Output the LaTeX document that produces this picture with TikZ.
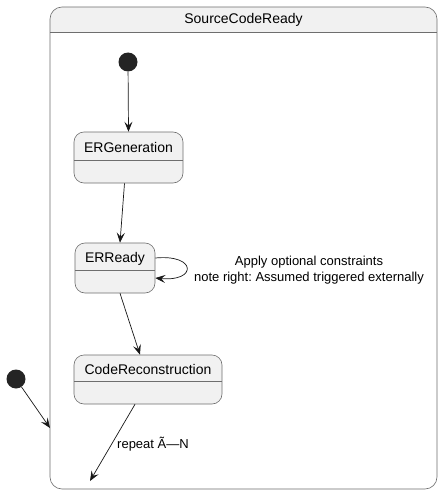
\documentclass[tikz,border=0pt]{standalone}
\usepackage{fontspec}
\setmainfont{Liberation Sans}
\frenchspacing
\usetikzlibrary{arrows.meta,calc}
\definecolor{stfill}{HTML}{F1F1F1}
\definecolor{stline}{HTML}{181818}
\definecolor{bordergray}{HTML}{6E6E6E}
\tikzset{
  every picture/.style={x=1pt,y=-1pt},
  statebox/.style={draw=bordergray, fill=stfill, rounded corners=10pt, line width=0.6pt, inner sep=0pt},
  cont/.style={draw=bordergray, rounded corners=12pt, line width=0.6pt, inner sep=0pt},
  initdot/.style={circle, fill=stline!95, minimum size=19pt, inner sep=0pt},
  stname/.style={font=\fontsize{14}{16}\selectfont, inner sep=0pt},
  lbl/.style={font=\fontsize{13}{16}\selectfont, inner sep=0pt, align=center},
  arr/.style={draw=stline, line width=0.7pt, -{Stealth[length=10pt,width=8pt,inset=4pt]}},
  divider/.style={draw=bordergray, line width=0.6pt}
}
\begin{document}
\begin{tikzpicture}
\useasboundingbox[fill=white] (0,0) rectangle (443,495);
% container
\begin{scope}
  \clip[rounded corners=12pt] (50,7) rectangle (437,489);
  \fill[stfill] (50,7) rectangle (437,32);
\end{scope}
\node[cont, minimum width=387pt, minimum height=482pt] (scr) at (243.5,248) {};
\draw[divider] (50,32) -- (437,32);
\node[stname] (scrt) at (243.5,20) {SourceCodeReady};
% states
\node[statebox, minimum width=109pt, minimum height=51pt] (erg) at (128.5,157.5) {};
\draw[divider] (74,160) -- (183,160);
\node[stname] (ergt) at (128.5,147) {ERGeneration};
\node[statebox, minimum width=80pt, minimum height=50pt] (err) at (115,268) {};
\draw[divider] (75,270) -- (155,270);
\node[stname] (errt) at (115,259) {ERReady};
\node[statebox, minimum width=148pt, minimum height=49pt] (cr) at (148,379.5) {};
\draw[divider] (74,381) -- (222,381);
\node[stname] (crt) at (148,369) {CodeReconstruction};
% initial states
\node[initdot] (i1) at (128,62) {};
\node[initdot] (i2) at (16,379) {};
\coordinate (e1) at (90,481);
\coordinate (e2) at (50,428);
% connectors
\draw[arr] (i1) -- (erg.north);
\draw[arr] ($(erg.south)+(-4,0)$) -- ($(err.north)+(5,0)$);
\draw[arr] ($(err.south)+(5,0)$) -- ($(cr.north)+(-8,0)$);
\draw[arr] ($(cr.south)+(-13,0)$) -- (e1);
\draw[arr] (i2) -- (e2);
\draw[arr] ($(err.east)+(0,-10)$) .. controls (197,254) and (197,282) .. ($(err.east)+(0,10)$);
% labels
\node[lbl] (l1) at (309,270) {Apply optional constraints\\note right: Assumed triggered externally};
\node[lbl, anchor=west] (l2) at (117,444) {repeat Ã—N};
\end{tikzpicture}
\end{document}
